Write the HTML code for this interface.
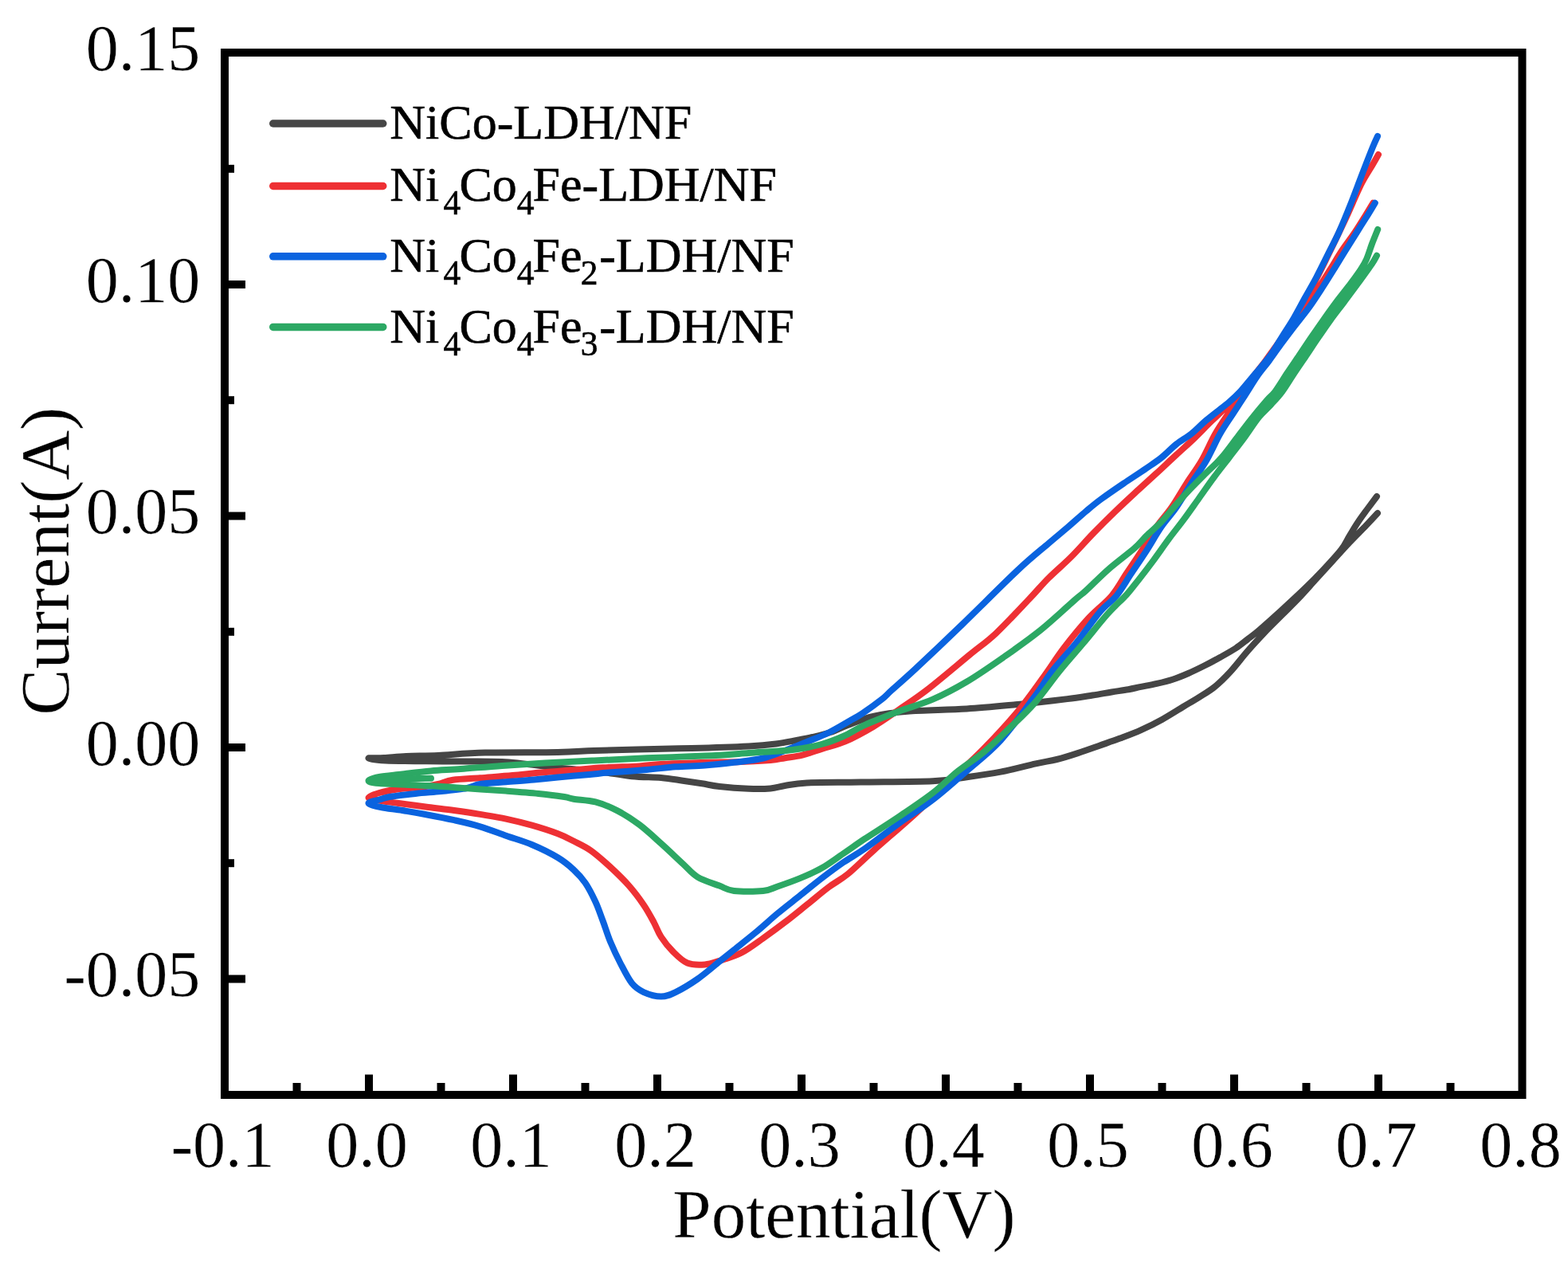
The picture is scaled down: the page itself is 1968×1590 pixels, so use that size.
<!DOCTYPE html>
<html><head><meta charset="utf-8"><title>CV curves</title>
<style>
html,body{margin:0;padding:0;background:#fff;}
body{width:1968px;height:1590px;overflow:hidden;}
svg{position:absolute;left:0;top:0;display:block;}
text{font-family:'Liberation Serif','Times New Roman',serif;fill:#000;stroke:#fff;stroke-width:0.3px;}
.leg{stroke:#000;stroke-width:0.6px;}
</style></head><body>
<svg width="1968" height="1590" viewBox="0 0 1968 1590">
<rect x="0" y="0" width="1968" height="1590" fill="#fff"/>

<path d="M1729.0 644.0 C1726.7 646.5 1720.8 652.9 1715.0 659.0 C1709.2 665.1 1701.1 673.0 1694.0 680.5 C1686.9 688.0 1679.7 696.1 1672.5 704.0 C1665.3 711.9 1658.1 719.8 1651.0 727.6 C1643.9 735.4 1636.8 743.5 1629.7 751.0 C1622.6 758.5 1615.4 765.3 1608.3 772.5 C1601.2 779.7 1594.1 786.5 1587.0 794.0 C1579.9 801.5 1572.7 809.2 1565.6 817.4 C1558.5 825.6 1551.0 835.6 1544.2 843.0 C1537.4 850.4 1531.2 856.5 1524.6 861.9 C1518.0 867.2 1511.4 870.9 1504.8 875.1 C1498.2 879.3 1492.6 882.4 1484.9 887.0 C1477.2 891.6 1467.3 898.0 1458.5 902.9 C1449.7 907.8 1440.9 912.1 1432.1 916.1 C1423.3 920.1 1414.5 923.3 1405.7 926.6 C1396.9 929.9 1388.1 932.8 1379.3 935.9 C1370.5 939.0 1361.6 942.2 1352.8 945.1 C1344.0 948.0 1335.2 950.8 1326.4 953.0 C1317.6 955.2 1311.7 955.7 1300.0 958.3 C1288.3 960.9 1270.4 965.8 1256.0 968.6 C1241.6 971.4 1227.6 973.3 1213.4 975.2 C1199.2 977.1 1192.9 979.2 1170.7 980.2 C1148.5 981.2 1106.3 981.1 1080.0 981.5 C1053.7 981.9 1028.5 981.6 1012.7 982.4 C996.9 983.1 992.6 984.8 985.0 986.0 C977.4 987.2 974.6 988.8 967.0 989.4 C959.4 990.0 950.2 990.1 939.5 989.7 C928.8 989.3 912.8 988.1 903.0 987.0 C893.2 985.9 888.7 984.5 881.0 983.3 C873.3 982.1 865.5 980.9 857.0 979.7 C848.5 978.5 840.4 976.9 829.7 976.0 C819.0 975.1 806.3 975.5 793.0 974.2 C779.7 972.9 765.5 969.8 750.0 968.0 C734.5 966.2 720.0 965.5 700.0 963.5 C680.0 961.5 653.3 957.3 630.0 956.0 C606.7 954.7 584.3 955.8 560.0 955.5 C535.7 955.2 500.2 955.2 484.0 954.5 C467.8 953.8 462.8 952.1 462.5 951.5 C462.2 950.9 474.1 951.4 482.0 951.0 C489.9 950.6 498.7 949.5 510.0 949.0 C521.3 948.5 533.5 948.6 550.0 947.9 C566.5 947.1 584.0 945.1 609.0 944.5 C634.0 943.9 677.3 944.4 700.0 944.0 C722.7 943.6 728.3 942.6 745.0 942.0 C761.7 941.4 779.5 940.9 800.0 940.4 C820.5 939.9 844.8 939.6 868.0 939.0 C891.2 938.4 921.8 937.4 939.5 936.5 C957.2 935.6 963.9 934.8 974.0 933.5 C984.1 932.2 992.3 930.4 1000.0 929.0 C1007.7 927.6 1013.0 926.7 1020.0 925.0 C1027.0 923.3 1034.7 921.5 1042.0 919.0 C1049.3 916.5 1055.0 913.3 1064.0 910.0 C1073.0 906.7 1083.5 901.9 1096.0 899.0 C1108.5 896.1 1119.1 894.3 1138.7 892.7 C1158.3 891.1 1190.3 891.0 1213.4 889.5 C1236.5 888.0 1263.0 885.3 1277.4 884.0 C1291.8 882.7 1289.6 882.9 1300.0 881.7 C1310.4 880.6 1327.7 878.6 1339.6 877.1 C1351.5 875.6 1362.0 873.9 1371.3 872.5 C1380.5 871.1 1387.6 869.7 1395.1 868.5 C1402.6 867.3 1410.0 866.3 1416.2 865.2 C1422.4 864.1 1426.1 863.1 1432.1 861.9 C1438.0 860.7 1445.3 859.4 1451.9 857.9 C1458.5 856.4 1465.1 854.9 1471.7 852.7 C1478.3 850.6 1484.9 847.9 1491.5 845.0 C1498.1 842.1 1504.8 838.8 1511.4 835.5 C1518.0 832.2 1524.6 828.7 1531.2 825.0 C1537.8 821.3 1545.3 817.2 1551.0 813.5 C1556.7 809.8 1560.7 806.3 1565.6 802.5 C1570.5 798.7 1573.4 796.8 1580.5 790.7 C1587.6 784.6 1598.7 774.8 1608.3 766.0 C1617.9 757.2 1629.7 746.3 1638.3 738.0 C1646.9 729.7 1652.5 724.0 1660.0 716.0 C1667.5 708.0 1677.5 697.3 1683.2 690.0 C1688.9 682.7 1690.4 677.8 1694.0 672.0 C1697.6 666.2 1701.0 660.3 1704.6 655.0 C1708.1 649.7 1711.4 645.3 1715.3 640.0 C1719.2 634.7 1725.9 625.8 1728.0 623.0" fill="none" stroke="#454545" stroke-width="8" stroke-linejoin="round" stroke-linecap="round"/>
<path d="M1723.3 254.7 C1721.9 257.1 1718.6 262.7 1714.8 268.8 C1711.0 274.9 1705.5 284.0 1700.5 291.5 C1695.5 299.0 1689.5 306.4 1684.5 314.0 C1679.5 321.6 1675.1 329.2 1670.4 336.8 C1665.7 344.4 1661.4 351.4 1656.2 359.4 C1651.0 367.4 1645.3 376.4 1639.2 384.9 C1633.1 393.4 1625.6 402.3 1619.5 410.3 C1613.4 418.3 1607.7 425.9 1602.5 433.0 C1597.3 440.1 1593.1 446.3 1588.3 452.8 C1583.5 459.3 1578.9 464.6 1573.5 472.0 C1568.1 479.4 1561.4 489.0 1556.0 497.0 C1550.6 505.0 1546.2 512.0 1541.0 520.0 C1535.8 528.0 1530.5 535.3 1525.0 545.0 C1519.5 554.7 1514.0 568.0 1508.0 578.3 C1502.0 588.6 1495.6 596.9 1489.3 606.6 C1483.0 616.4 1476.7 627.7 1470.4 636.8 C1464.1 645.9 1457.8 652.2 1451.5 661.3 C1445.2 670.4 1439.0 681.8 1432.7 691.5 C1426.4 701.2 1420.1 710.4 1413.8 719.8 C1407.5 729.2 1403.0 738.6 1395.0 748.0 C1387.0 757.4 1375.9 765.2 1366.0 776.0 C1356.1 786.8 1344.8 800.7 1335.4 813.0 C1326.0 825.3 1319.1 836.7 1309.4 850.0 C1299.7 863.3 1289.9 877.8 1277.4 892.7 C1265.0 907.6 1248.9 925.0 1234.7 939.6 C1220.5 954.2 1206.2 966.7 1192.0 980.2 C1177.8 993.7 1165.4 1006.1 1149.4 1020.7 C1133.4 1035.3 1110.2 1055.0 1096.0 1067.7 C1081.8 1080.4 1073.2 1089.4 1063.9 1097.0 C1054.6 1104.6 1048.5 1107.0 1040.0 1113.4 C1031.5 1119.8 1021.8 1128.1 1012.7 1135.4 C1003.6 1142.7 994.4 1150.3 985.2 1157.3 C976.1 1164.3 966.9 1171.0 957.8 1177.4 C948.7 1183.8 939.5 1191.0 930.4 1195.7 C921.3 1200.4 910.6 1203.3 903.0 1205.8 C895.4 1208.2 891.3 1210.0 884.6 1210.4 C877.9 1210.9 869.4 1211.2 862.7 1208.5 C856.0 1205.8 849.9 1199.4 844.4 1193.9 C838.9 1188.4 833.7 1181.7 829.7 1175.6 C825.7 1169.5 824.2 1164.0 820.6 1157.3 C817.0 1150.6 813.0 1143.0 807.8 1135.4 C802.6 1127.8 796.5 1119.5 789.5 1111.6 C782.5 1103.7 773.6 1095.1 765.7 1087.8 C757.8 1080.5 749.6 1073.1 742.0 1067.7 C734.4 1062.3 727.0 1059.1 720.0 1055.5 C713.0 1051.9 708.9 1049.6 700.2 1046.3 C691.5 1043.0 678.5 1038.8 667.6 1035.7 C656.7 1032.6 645.8 1029.9 635.0 1027.6 C624.2 1025.3 613.4 1023.7 602.6 1021.9 C591.8 1020.1 580.8 1018.5 570.0 1017.0 C559.2 1015.5 549.2 1014.5 537.6 1013.0 C526.0 1011.5 510.5 1009.4 500.2 1008.0 C489.9 1006.6 482.3 1005.7 476.0 1004.5 C469.7 1003.3 462.5 1002.6 462.5 1001.0 C462.5 999.4 469.7 996.8 476.0 995.0 C482.3 993.2 491.0 991.5 500.2 990.2 C509.4 989.0 522.7 988.5 531.0 987.5 C539.3 986.5 543.8 985.5 550.0 984.0 C556.2 982.5 559.7 980.1 568.5 978.8 C577.3 977.5 590.1 977.2 602.6 976.3 C615.1 975.3 631.1 974.2 643.3 973.1 C655.5 972.0 663.6 970.9 675.8 969.8 C688.0 968.7 702.9 967.7 716.4 966.6 C729.9 965.5 742.7 964.2 757.0 963.3 C771.3 962.4 789.6 962.2 802.3 961.4 C815.0 960.6 820.4 959.4 833.4 958.7 C846.4 958.0 863.9 957.5 880.0 957.0 C896.1 956.5 915.5 956.5 930.0 956.0 C944.5 955.5 957.8 954.8 967.0 954.0 C976.2 953.2 978.5 952.3 985.2 951.2 C991.9 950.1 999.2 949.5 1007.0 947.6 C1014.8 945.7 1023.0 942.5 1032.0 939.6 C1041.0 936.7 1050.3 935.0 1061.0 930.4 C1071.7 925.8 1084.8 918.6 1096.0 912.0 C1107.2 905.4 1116.6 898.6 1128.0 890.8 C1139.4 882.9 1149.8 876.3 1164.6 864.9 C1179.3 853.5 1202.3 833.9 1216.5 822.2 C1230.7 810.5 1237.5 806.5 1250.0 794.8 C1262.5 783.1 1280.5 763.5 1291.5 752.0 C1302.5 740.5 1307.2 734.3 1316.0 725.5 C1324.8 716.7 1334.9 708.4 1344.3 699.0 C1353.7 689.6 1363.1 678.6 1372.6 668.9 C1382.0 659.2 1391.6 649.7 1401.0 640.6 C1410.4 631.5 1421.0 621.8 1429.2 614.2 C1437.4 606.7 1442.1 602.5 1450.0 595.3 C1457.9 588.1 1468.2 578.3 1476.4 570.8 C1484.6 563.2 1492.1 556.6 1499.0 550.0 C1505.9 543.4 1510.2 538.7 1518.0 531.0 C1525.8 523.3 1537.3 512.8 1546.0 504.0 C1554.7 495.2 1561.7 487.7 1570.0 478.0 C1578.3 468.3 1587.7 457.7 1596.0 446.0 C1604.3 434.3 1611.8 421.7 1620.0 408.0 C1628.2 394.3 1637.0 379.0 1645.0 364.0 C1653.0 349.0 1660.5 333.3 1668.0 318.0 C1675.5 302.7 1683.3 286.3 1690.0 272.0 C1696.7 257.7 1702.7 242.7 1708.0 232.0 C1713.3 221.3 1718.3 214.3 1722.0 208.0 C1725.7 201.7 1728.7 196.3 1730.0 194.0" fill="none" stroke="#EE3034" stroke-width="8" stroke-linejoin="round" stroke-linecap="round"/>
<path d="M1725.8 254.7 C1724.4 257.1 1721.1 262.7 1717.3 268.8 C1713.5 274.9 1707.7 284.0 1703.0 291.5 C1698.3 299.0 1693.7 306.4 1689.0 314.0 C1684.3 321.6 1679.6 329.2 1674.9 336.8 C1670.2 344.4 1665.9 351.4 1660.7 359.4 C1655.5 367.4 1649.8 376.4 1643.7 384.9 C1637.6 393.4 1630.1 402.3 1624.0 410.3 C1617.9 418.3 1612.2 425.9 1607.0 433.0 C1601.8 440.1 1597.6 446.3 1592.8 452.8 C1588.0 459.3 1583.1 464.6 1578.0 472.0 C1572.9 479.4 1567.2 489.0 1562.0 497.0 C1556.8 505.0 1552.2 512.0 1547.0 520.0 C1541.8 528.0 1536.5 535.3 1531.0 545.0 C1525.5 554.7 1520.0 568.0 1514.0 578.3 C1508.0 588.6 1501.6 596.9 1495.3 606.6 C1489.0 616.4 1482.7 627.7 1476.4 636.8 C1470.1 645.9 1463.8 652.2 1457.5 661.3 C1451.2 670.4 1445.0 681.8 1438.7 691.5 C1432.4 701.2 1426.1 710.4 1419.8 719.8 C1413.5 729.2 1407.5 740.1 1401.0 748.0 C1394.5 755.9 1389.4 757.5 1381.0 767.3 C1372.6 777.1 1360.8 794.4 1350.6 807.0 C1340.4 819.6 1328.6 831.8 1320.0 843.0 C1311.4 854.2 1309.5 859.7 1298.8 874.0 C1288.1 888.3 1270.2 913.4 1256.0 929.0 C1241.8 944.6 1227.6 955.0 1213.4 967.4 C1199.2 979.8 1184.9 992.6 1170.7 1003.6 C1156.5 1014.6 1142.2 1023.3 1128.0 1033.5 C1113.8 1043.7 1097.0 1056.9 1085.4 1065.0 C1073.8 1073.1 1067.5 1076.1 1058.4 1082.3 C1049.3 1088.5 1040.2 1095.4 1031.0 1102.4 C1021.9 1109.4 1012.7 1117.1 1003.5 1124.4 C994.3 1131.7 985.1 1138.7 976.0 1146.3 C966.9 1153.9 957.7 1162.4 948.6 1170.0 C939.5 1177.6 928.8 1185.9 921.2 1192.0 C913.6 1198.1 910.6 1200.6 903.0 1206.7 C895.4 1212.8 884.7 1222.2 875.5 1228.6 C866.3 1235.0 855.6 1241.4 848.0 1245.1 C840.4 1248.8 836.4 1250.6 829.7 1250.6 C823.0 1250.6 813.9 1247.8 807.8 1245.1 C801.7 1242.3 798.1 1240.2 793.2 1234.1 C788.3 1228.0 783.1 1217.3 778.5 1208.5 C773.9 1199.7 769.4 1189.8 765.7 1181.0 C762.1 1172.2 759.7 1163.7 756.6 1155.5 C753.5 1147.3 751.1 1139.6 747.4 1131.7 C743.7 1123.8 739.2 1114.7 734.6 1108.0 C730.0 1101.3 725.7 1096.8 720.0 1091.5 C714.3 1086.2 708.9 1081.5 700.2 1076.3 C691.5 1071.0 678.5 1064.6 667.6 1060.0 C656.7 1055.4 645.8 1052.5 635.0 1048.7 C624.2 1044.9 613.4 1040.5 602.6 1037.3 C591.8 1034.0 580.8 1031.6 570.0 1029.2 C559.2 1026.8 548.4 1024.7 537.6 1022.7 C526.8 1020.7 514.9 1018.6 505.0 1017.0 C495.1 1015.4 485.1 1014.5 478.0 1013.0 C470.9 1011.5 462.8 1009.6 462.5 1008.0 C462.2 1006.4 471.6 1004.8 476.0 1003.5 C480.4 1002.2 481.2 1001.3 488.8 1000.0 C496.4 998.7 510.5 997.1 521.3 995.9 C532.1 994.7 543.0 994.1 553.8 993.0 C564.6 991.9 578.2 990.5 586.3 989.0 C594.4 987.5 594.5 985.3 602.6 984.0 C610.7 982.7 623.8 982.1 635.0 981.2 C646.2 980.3 659.2 979.5 670.0 978.5 C680.8 977.5 688.3 976.6 700.0 975.5 C711.7 974.4 729.3 973.0 740.0 972.0 C750.7 971.0 752.1 970.6 764.0 969.6 C775.9 968.6 797.5 967.2 811.5 966.0 C825.5 964.8 835.8 963.2 848.0 962.3 C860.2 961.4 872.4 961.4 884.6 960.5 C896.8 959.6 908.8 958.3 921.0 956.8 C933.2 955.3 947.1 954.0 957.8 951.5 C968.5 949.0 976.1 945.4 985.2 942.0 C994.4 938.6 1003.6 934.8 1012.7 931.0 C1021.8 927.2 1030.9 924.0 1040.0 919.5 C1049.1 915.0 1060.5 908.0 1067.5 904.0 C1074.5 900.0 1075.8 899.8 1082.3 895.4 C1088.8 891.0 1100.6 882.5 1106.7 877.7 C1112.8 872.9 1111.8 872.9 1118.9 866.4 C1126.0 859.9 1134.7 852.7 1149.4 839.0 C1164.1 825.3 1186.0 804.6 1207.3 784.0 C1228.6 763.4 1259.3 732.5 1277.4 715.5 C1295.5 698.5 1305.5 691.0 1316.0 682.0 C1326.5 673.0 1332.7 668.0 1340.6 661.3 C1348.5 654.5 1356.3 647.3 1363.2 641.5 C1370.1 635.7 1374.1 632.2 1382.0 626.4 C1389.9 620.6 1401.0 613.0 1410.4 606.6 C1419.9 600.2 1430.9 593.1 1438.7 587.7 C1446.5 582.4 1451.2 579.5 1457.5 574.5 C1463.8 569.5 1470.1 562.5 1476.4 557.5 C1482.7 552.5 1489.0 549.3 1495.3 544.3 C1501.6 539.3 1506.1 534.0 1514.0 527.4 C1521.9 520.8 1535.5 510.6 1542.5 504.7 C1549.5 498.8 1551.3 497.0 1556.0 492.0 C1560.7 487.0 1566.5 479.5 1570.8 474.5 C1575.0 469.5 1577.4 467.0 1581.5 462.0 C1585.6 457.0 1590.9 451.0 1595.6 444.3 C1600.3 437.6 1605.1 429.2 1609.8 421.6 C1614.5 414.1 1619.3 407.0 1624.0 399.0 C1628.7 391.0 1633.3 382.0 1638.0 373.5 C1642.7 365.0 1647.5 356.9 1652.2 348.0 C1656.9 339.1 1661.7 329.2 1666.4 319.8 C1671.1 310.4 1675.8 301.9 1680.5 291.5 C1685.2 281.1 1690.0 269.3 1694.7 257.5 C1699.4 245.7 1704.1 232.9 1708.8 220.7 C1713.5 208.5 1719.6 192.8 1723.0 184.5 C1726.4 176.2 1728.0 173.2 1729.0 171.0" fill="none" stroke="#0A63DF" stroke-width="8" stroke-linejoin="round" stroke-linecap="round"/>
<path d="M1728.0 320.7 C1727.0 322.4 1725.9 325.2 1722.0 331.0 C1718.1 336.8 1710.3 347.5 1704.5 355.5 C1698.7 363.5 1692.7 371.4 1687.0 379.0 C1681.3 386.6 1675.8 393.5 1670.5 400.8 C1665.2 408.1 1660.2 415.5 1655.0 423.0 C1649.8 430.5 1644.8 438.3 1639.6 446.0 C1634.4 453.7 1629.0 461.4 1624.0 469.0 C1619.0 476.6 1614.2 484.8 1609.4 491.3 C1604.6 497.8 1599.9 502.6 1595.0 508.0 C1590.1 513.4 1585.6 516.6 1580.0 523.6 C1574.4 530.6 1567.5 541.5 1561.3 550.0 C1555.0 558.5 1548.8 566.3 1542.5 574.5 C1536.2 582.7 1529.9 590.5 1523.6 599.0 C1517.3 607.5 1511.0 616.7 1504.7 625.5 C1498.4 634.3 1492.1 643.4 1485.8 651.9 C1479.5 660.4 1473.3 667.9 1467.0 676.4 C1460.7 684.9 1454.3 694.3 1448.0 702.8 C1441.7 711.3 1434.9 720.2 1429.2 727.4 C1423.5 734.6 1420.5 739.0 1414.0 746.2 C1407.5 753.4 1399.2 760.3 1390.2 770.4 C1381.2 780.5 1369.8 795.1 1359.8 807.0 C1349.8 818.9 1340.2 829.5 1330.0 842.0 C1319.8 854.5 1309.3 870.0 1298.8 882.0 C1288.3 894.0 1277.5 903.7 1266.8 914.0 C1256.1 924.3 1245.4 935.0 1234.7 943.9 C1224.0 952.8 1213.4 958.9 1202.7 967.4 C1192.0 975.9 1183.2 985.5 1170.7 995.1 C1158.2 1004.7 1142.2 1015.4 1128.0 1025.0 C1113.8 1034.6 1097.0 1045.0 1085.4 1052.7 C1073.8 1060.4 1067.5 1065.2 1058.4 1071.3 C1049.3 1077.4 1040.2 1084.4 1031.0 1089.6 C1021.9 1094.8 1012.7 1098.6 1003.5 1102.4 C994.3 1106.2 983.6 1109.9 976.0 1112.5 C968.4 1115.1 966.9 1117.1 957.8 1118.0 C948.7 1118.9 930.4 1119.1 921.2 1118.0 C912.1 1116.9 910.5 1114.5 902.9 1111.6 C895.3 1108.7 883.1 1105.2 875.5 1100.6 C867.9 1096.0 864.8 1091.1 857.2 1084.1 C849.6 1077.1 838.9 1066.7 829.7 1058.5 C820.6 1050.3 811.4 1041.6 802.3 1034.8 C793.2 1028.0 784.0 1022.1 774.9 1017.4 C765.8 1012.7 756.5 1008.8 747.4 1006.4 C738.2 1004.0 726.5 1003.8 720.0 1002.7 C713.5 1001.6 715.7 1001.1 708.3 1000.0 C700.9 998.9 688.0 997.1 675.8 995.9 C663.6 994.7 649.9 993.7 635.0 992.6 C620.1 991.5 602.5 990.4 586.3 989.3 C570.1 988.2 556.0 987.1 537.6 986.1 C519.2 985.1 488.5 984.1 476.0 983.0 C463.5 981.9 462.5 980.9 462.5 979.6 C462.5 978.3 468.9 976.4 476.0 975.0 C483.1 973.6 494.2 972.8 505.0 971.5 C515.8 970.2 528.6 968.5 540.8 967.4 C553.0 966.3 563.3 966.1 578.2 965.0 C593.1 963.9 612.6 962.1 630.2 960.9 C647.8 959.7 664.8 958.7 684.0 957.6 C703.2 956.5 724.5 955.5 745.7 954.4 C767.0 953.3 788.4 952.3 811.5 951.3 C834.6 950.3 863.3 949.6 884.6 948.6 C905.9 947.6 921.2 946.3 939.5 945.0 C957.8 943.7 979.1 942.8 994.4 941.0 C1009.6 939.2 1020.3 936.8 1031.0 934.0 C1041.7 931.2 1049.3 928.0 1058.4 924.0 C1067.5 920.0 1073.8 915.0 1085.4 909.8 C1097.0 904.6 1113.8 898.1 1128.0 892.7 C1142.2 887.4 1156.5 883.9 1170.7 877.7 C1184.9 871.5 1198.7 864.2 1213.4 855.5 C1228.1 846.8 1243.8 835.8 1259.0 825.2 C1274.2 814.6 1289.7 803.9 1304.9 791.7 C1320.1 779.5 1340.3 760.5 1350.0 752.0 C1359.7 743.5 1356.3 747.3 1363.2 741.0 C1370.1 734.7 1381.4 723.0 1391.5 714.2 C1401.6 705.4 1415.9 694.9 1423.8 688.0 C1431.7 681.1 1433.1 678.1 1438.7 672.6 C1444.3 667.1 1451.2 661.6 1457.5 655.0 C1463.8 648.4 1470.1 640.1 1476.4 633.0 C1482.7 625.9 1489.0 618.9 1495.3 612.3 C1501.6 605.7 1507.7 599.7 1514.0 593.4 C1520.3 587.1 1526.7 581.7 1533.0 574.5 C1539.3 567.3 1545.7 558.2 1552.0 550.0 C1558.3 541.8 1564.5 533.4 1570.8 525.5 C1577.1 517.6 1584.7 508.5 1589.6 502.8 C1594.5 497.1 1596.2 496.9 1600.4 491.3 C1604.6 485.7 1610.0 476.6 1615.0 469.0 C1620.0 461.4 1625.4 453.7 1630.6 446.0 C1635.8 438.3 1640.8 430.5 1646.0 423.0 C1651.2 415.5 1656.2 408.3 1661.5 400.8 C1666.8 393.3 1672.3 385.6 1678.0 378.0 C1683.7 370.4 1690.5 362.2 1695.5 355.5 C1700.5 348.8 1704.7 343.0 1708.0 338.0 C1711.3 333.0 1712.8 330.6 1715.1 325.3 C1717.4 320.0 1719.7 312.2 1722.0 306.0 C1724.3 299.8 1728.0 291.0 1729.2 288.0" fill="none" stroke="#2CA864" stroke-width="8" stroke-linejoin="round" stroke-linecap="round"/>
<path d="M465 979.5 L492 977.5 L541 976.8" fill="none" stroke="#2CA864" stroke-width="8" stroke-linecap="round"/>
<g stroke="#000" stroke-width="10" fill="none">
<rect x="282" y="66" width="1628.5" height="1308" stroke-linejoin="miter"/>
<line x1="282" y1="1228.5" x2="308" y2="1228.5"/>
<line x1="282" y1="938.0" x2="308" y2="938.0"/>
<line x1="282" y1="647.5" x2="308" y2="647.5"/>
<line x1="282" y1="357.0" x2="308" y2="357.0"/>
<line x1="282" y1="1083.2" x2="294" y2="1083.2"/>
<line x1="282" y1="792.8" x2="294" y2="792.8"/>
<line x1="282" y1="502.2" x2="294" y2="502.2"/>
<line x1="282" y1="211.8" x2="294" y2="211.8"/>
<line x1="463.0" y1="1374" x2="463.0" y2="1348.5"/>
<line x1="644.0" y1="1374" x2="644.0" y2="1348.5"/>
<line x1="825.0" y1="1374" x2="825.0" y2="1348.5"/>
<line x1="1006.0" y1="1374" x2="1006.0" y2="1348.5"/>
<line x1="1187.0" y1="1374" x2="1187.0" y2="1348.5"/>
<line x1="1368.0" y1="1374" x2="1368.0" y2="1348.5"/>
<line x1="1549.0" y1="1374" x2="1549.0" y2="1348.5"/>
<line x1="1730.0" y1="1374" x2="1730.0" y2="1348.5"/>
<line x1="372.5" y1="1374" x2="372.5" y2="1359"/>
<line x1="553.5" y1="1374" x2="553.5" y2="1359"/>
<line x1="734.5" y1="1374" x2="734.5" y2="1359"/>
<line x1="915.5" y1="1374" x2="915.5" y2="1359"/>
<line x1="1096.5" y1="1374" x2="1096.5" y2="1359"/>
<line x1="1277.5" y1="1374" x2="1277.5" y2="1359"/>
<line x1="1458.5" y1="1374" x2="1458.5" y2="1359"/>
<line x1="1639.5" y1="1374" x2="1639.5" y2="1359"/>
<line x1="1820.5" y1="1374" x2="1820.5" y2="1359"/>
</g>
<text x="251.3" y="88.2" font-size="82" text-anchor="end">0.15</text>
<text x="251.3" y="378.7" font-size="82" text-anchor="end">0.10</text>
<text x="251.3" y="669.2" font-size="82" text-anchor="end">0.05</text>
<text x="251.3" y="959.7" font-size="82" text-anchor="end">0.00</text>
<text x="251.3" y="1250.2" font-size="82" text-anchor="end">-0.05</text>
<text x="279.6" y="1463.5" font-size="82" text-anchor="middle">-0.1</text>
<text x="460.6" y="1463.5" font-size="82" text-anchor="middle">0.0</text>
<text x="641.6" y="1463.5" font-size="82" text-anchor="middle">0.1</text>
<text x="822.6" y="1463.5" font-size="82" text-anchor="middle">0.2</text>
<text x="1003.6" y="1463.5" font-size="82" text-anchor="middle">0.3</text>
<text x="1184.6" y="1463.5" font-size="82" text-anchor="middle">0.4</text>
<text x="1365.6" y="1463.5" font-size="82" text-anchor="middle">0.5</text>
<text x="1546.6" y="1463.5" font-size="82" text-anchor="middle">0.6</text>
<text x="1727.6" y="1463.5" font-size="82" text-anchor="middle">0.7</text>
<text x="1908.6" y="1463.5" font-size="82" text-anchor="middle">0.8</text>
<text x="844.3" y="1552.5" font-size="87">Potential(V)</text>
<text transform="translate(85.5,897.6) rotate(-90)" x="0" y="0" font-size="87">Current(A)</text>
<line x1="342.75" y1="155" x2="480.75" y2="155" stroke="#454545" stroke-width="9.5" stroke-linecap="round"/>
<text class="leg" x="489.3" y="174.2" font-size="62">NiCo-LDH/NF</text>
<line x1="342.75" y1="233.5" x2="480.75" y2="233.5" stroke="#EE3034" stroke-width="9.5" stroke-linecap="round"/>
<text class="leg" font-size="62"><tspan x="489.2" y="252.1">Ni</tspan><tspan x="556.5" y="268.6" font-size="43.5">4</tspan><tspan x="576.5" y="252.1">Co</tspan><tspan x="648.8" y="268.6" font-size="43.5">4</tspan><tspan x="668.5" y="252.1">Fe-LDH/NF</tspan></text>
<line x1="342.75" y1="321.8" x2="480.75" y2="321.8" stroke="#0A63DF" stroke-width="9.5" stroke-linecap="round"/>
<text class="leg" font-size="62"><tspan x="489.2" y="340.6">Ni</tspan><tspan x="556.5" y="357.1" font-size="43.5">4</tspan><tspan x="576.5" y="340.6">Co</tspan><tspan x="648.8" y="357.1" font-size="43.5">4</tspan><tspan x="668.5" y="340.6">Fe</tspan><tspan x="728.8" y="357.1" font-size="43.5">2</tspan><tspan x="752.2" y="340.6">-LDH/NF</tspan></text>
<line x1="342.75" y1="410.4" x2="480.75" y2="410.4" stroke="#2CA864" stroke-width="9.5" stroke-linecap="round"/>
<text class="leg" font-size="62"><tspan x="489.2" y="429.5">Ni</tspan><tspan x="556.5" y="446.0" font-size="43.5">4</tspan><tspan x="576.5" y="429.5">Co</tspan><tspan x="648.8" y="446.0" font-size="43.5">4</tspan><tspan x="668.5" y="429.5">Fe</tspan><tspan x="728.8" y="446.0" font-size="43.5">3</tspan><tspan x="752.2" y="429.5">-LDH/NF</tspan></text>
</svg></body></html>
